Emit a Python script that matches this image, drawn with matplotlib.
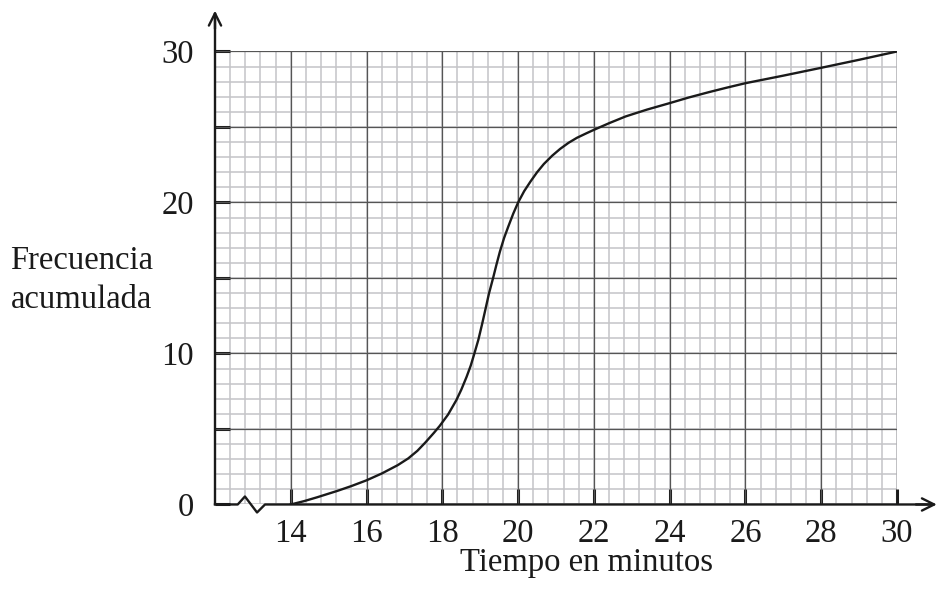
import matplotlib
matplotlib.use('Agg')
import matplotlib.pyplot as plt
import numpy as np

plt.rcParams['font.family'] = ['Liberation Serif', 'DejaVu Serif']

# Curva de frecuencia acumulada
tiempo = [14.0, 14.35, 14.7, 15.23, 15.6, 16.0, 16.4, 16.82, 17.1, 17.34,
          17.55, 17.78, 17.93, 18.15, 18.37, 18.5, 18.64, 18.75, 18.84, 18.95,
          19.05, 19.14, 19.23, 19.34, 19.43, 19.52, 19.63, 19.74, 19.87, 20.0,
          20.16, 20.33, 20.5, 20.68, 20.9, 21.11, 21.33, 21.55, 21.8, 22.0,
          22.4, 22.84, 23.4, 24.0, 24.5, 25.04, 25.5, 26.0, 27.0, 28.0, 29.0, 30.0]
frecuencia = [0.0, 0.22, 0.48, 0.9, 1.22, 1.6, 2.05, 2.6, 3.05, 3.55,
              4.1, 4.75, 5.2, 5.95, 6.91, 7.6, 8.45, 9.2, 9.95, 10.9,
              11.95, 12.95, 13.96, 15.0, 15.9, 16.75, 17.65, 18.4, 19.25, 20.0,
              20.75, 21.4, 22.0, 22.55, 23.1, 23.55, 23.95, 24.28, 24.58, 24.81,
              25.25, 25.7, 26.15, 26.58, 26.95, 27.31, 27.6, 27.9, 28.4, 28.92,
              29.45, 30.0]

x_ticks = [14, 16, 18, 20, 22, 24, 26, 28, 30]
y_ticks = [0, 10, 20, 30]
y_minor_ticks = [5, 15, 25]

fs = 23.5

fig = plt.figure(figsize=(9.38, 5.89), dpi=100)
ax = fig.add_axes([0.2292, 0.1435, 0.7271, 0.7691])
ax.set_xlim(12, 30)
ax.set_ylim(0, 30)
for s in ax.spines.values():
    s.set_visible(False)

# papel cuadriculado
minor_x = np.arange(12, 30.001, 0.4)
minor_y = np.arange(0, 30.001, 1)
ax.vlines(minor_x, 0, 30, color='#c4c4c8', lw=1.1, zorder=1)
ax.hlines(minor_y, 12, 30, color='#c4c4c8', lw=1.1, zorder=1)
ax.vlines(np.arange(14, 30.001, 2), 0, 30, color='#555555', lw=0.9, zorder=2)
ax.hlines(np.arange(5, 30.001, 5), 12, 30, color='#555555', lw=0.9, zorder=2)

# curva
ax.plot(tiempo, frecuencia, color='#1a1a1a', lw=1.7, zorder=4,
        solid_joinstyle='round')

# ejes con flechas y corte
ax.plot([12, 12.6, 12.79, 13.11, 13.32, 30.9], [0, 0, 0.53, -0.53, 0, 0],
        color='#1a1a1a', lw=1.7, clip_on=False, zorder=5)
ax.plot([12, 12], [0, 32.5], color='#1a1a1a', lw=1.7, clip_on=False, zorder=5)
ax.annotate('', xy=(31.05, 0), xytext=(30.5, 0), annotation_clip=False,
            arrowprops=dict(arrowstyle='->', color='#1a1a1a', lw=1.7,
                            mutation_scale=22, shrinkA=0, shrinkB=0))
ax.annotate('', xy=(12, 32.7), xytext=(12, 31.5), annotation_clip=False,
            arrowprops=dict(arrowstyle='->', color='#1a1a1a', lw=1.7,
                            mutation_scale=22, shrinkA=0, shrinkB=0))

ax.set_xticks(x_ticks)
ax.set_xticklabels([str(t) for t in x_ticks])
ax.set_yticks(y_ticks)
ax.set_yticklabels([str(t) for t in y_ticks])
ax.set_yticks(y_minor_ticks, minor=True)
ax.tick_params(axis='both', which='both', direction='in', length=11,
               width=2.2, color='#1a1a1a', labelsize=fs, labelcolor='#1a1a1a')
ax.tick_params(axis='x', pad=10)
ax.tick_params(axis='y', pad=15)
for t in ax.xaxis.get_major_ticks() + ax.yaxis.get_major_ticks() + ax.yaxis.get_minor_ticks():
    t.tick1line.set_zorder(6)

ax.text(21.8, -4.4, 'Tiempo en minutos', ha='center', va='baseline',
        fontsize=fs, color='#1a1a1a', clip_on=False)
ax.text(8.49, 15.57, 'Frecuencia', ha='center', va='baseline',
        fontsize=fs, color='#1a1a1a', clip_on=False)
ax.text(8.49, 13.0, 'acumulada', ha='center', va='baseline',
        fontsize=fs, color='#1a1a1a', clip_on=False)

fig.savefig('out.png', dpi=100)
